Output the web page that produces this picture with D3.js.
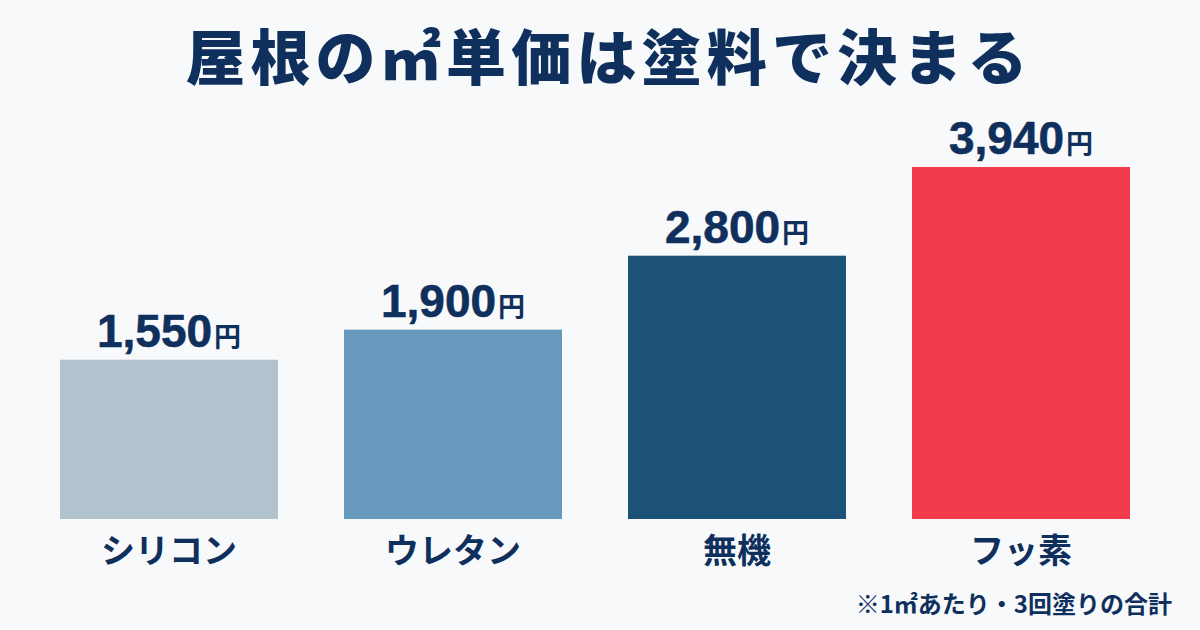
<!DOCTYPE html>
<html lang="ja">
<head>
<meta charset="utf-8">
<script src="https://cdn.jsdelivr.net/npm/d3@7"></script>
<style>
  html, body { margin: 0; padding: 0; background: #f8f9fb; }
  svg { display: block; }
  text { fill: #0f2f5c; font-family: "Noto Sans CJK JP", sans-serif; font-weight: 700; }
  .num { font-family: "Liberation Sans", Arial, sans-serif; stroke: #0f2f5c; stroke-width: 0.6px; }
</style>
</head>
<body>
<svg id="chart" width="1200" height="630"></svg>
<script>
// values
var categories = ["シリコン", "ウレタン", "無機", "フッ素"];
var prices = [1550, 1900, 2800, 3940];
var barColors = ["#b3c3ce", "#6699bc", "#1c5278", "#f23c4b"];
var titleText = "屋根の㎡単価は塗料で決まる";
var noteText = "※1㎡あたり・3回塗りの合計";
var unit = "円";

var svg = d3.select("#chart");

// the bars in the picture are not proportional to the prices, a pow scale gets close
var x = d3.scaleBand().domain(categories).range([60, 1130]).paddingInner(66 / 284).paddingOuter(0);
var y = d3.scalePow().exponent(0.85).domain([0, 3940]).range([519, 167]);
var color = d3.scaleOrdinal().domain(categories).range(barColors);

svg.append("text")
  .attr("x", 609)
  .attr("y", 80)
  .attr("text-anchor", "middle")
  .style("font-size", "60px")
  .style("letter-spacing", "5.2px")
  .style("font-weight", 900)
  .text(titleText);

var rows = categories.map((c, i) => ({ category: c, price: prices[i] }));

svg.selectAll("rect.bar")
  .data(rows)
  .join("rect")
  .attr("class", "bar")
  .attr("x", d => x(d.category))
  .attr("y", d => y(d.price))
  .attr("width", x.bandwidth())
  .attr("height", d => y(0) - y(d.price))
  .attr("fill", d => color(d.category));

// price label: number plus a smaller yen sign
var labels = svg.selectAll("text.value")
  .data(rows)
  .join("text")
  .attr("class", "value")
  .attr("x", d => x(d.category) + x.bandwidth() / 2)
  .attr("y", d => y(d.price) - 13)
  .attr("text-anchor", "middle");
labels.append("tspan")
  .attr("class", "num")
  .style("font-size", "46px")
  .text(d => d3.format(",")(d.price));
labels.append("tspan")
  .attr("dx", 2)
  .style("font-size", "27px")
  .text(unit);

// category names under the bars
svg.selectAll("text.cat")
  .data(rows)
  .join("text")
  .attr("class", "cat")
  .attr("x", d => x(d.category) + x.bandwidth() / 2)
  .attr("y", 563)
  .attr("text-anchor", "middle")
  .style("font-size", "34px")
  .text(d => d.category);

svg.append("text")
  .attr("x", 1172)
  .attr("y", 613)
  .attr("text-anchor", "end")
  .style("font-size", "24px")
  .text(noteText);
</script>
</body>
</html>
